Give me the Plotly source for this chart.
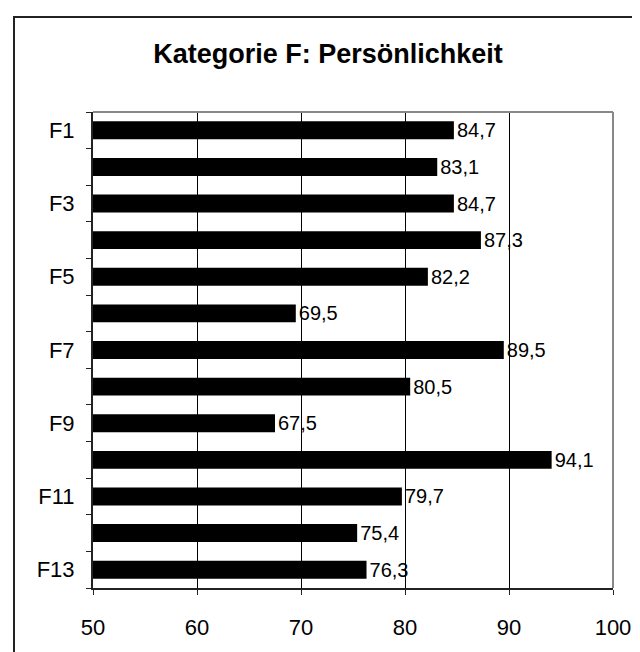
import plotly.graph_objects as go

categories = ["F1", "F2", "F3", "F4", "F5", "F6", "F7", "F8", "F9", "F10", "F11", "F12", "F13"]
values = [84.7, 83.1, 84.7, 87.3, 82.2, 69.5, 89.5, 80.5, 67.5, 94.1, 79.7, 75.4, 76.3]
tick_labels = [c if i % 2 == 0 else "" for i, c in enumerate(categories)]
x_ticks = [50, 60, 70, 80, 90, 100]

FONT = "Liberation Sans, Arial, sans-serif"

fig = go.Figure()
fig.add_trace(go.Bar(
    x=values, y=categories, orientation="h",
    marker=dict(color="black", line=dict(width=0)),
    texttemplate="%{x:.1f}", textposition="outside", constraintext="none",
    textfont=dict(family=FONT, size=20, color="black"),
    cliponaxis=False, showlegend=False,
))

L, R, T, B = 85, 35, 104, 72
W, H = 640, 652
pw, ph = W - L - R, H - T - B

def px(x):
    return (x - L) / pw

def py(y):
    return (H - B - y) / ph

fig.update_layout(
    width=W, height=H,
    margin=dict(l=L, r=R, t=T, b=B),
    paper_bgcolor="white", plot_bgcolor="white",
    separators=",.",
    bargap=0.51,
    title=dict(text="<b>Kategorie F: Persönlichkeit</b>", x=0.5, xanchor="center",
               y=1 - 46 / H, yanchor="middle",
               font=dict(family=FONT, size=27, color="black")),
    xaxis=dict(range=[50, 100], tickvals=x_ticks, showgrid=True, gridcolor="black", gridwidth=1,
               showline=True, linecolor="#222222", linewidth=2, ticks="outside", ticklen=5,
               tickcolor="#222222", zeroline=False,
               tickfont=dict(family=FONT, size=22, color="black"), ticklabelstandoff=14),
    yaxis=dict(type="category", categoryorder="array", categoryarray=categories,
               autorange="reversed", tickmode="array", tickvals=categories, ticktext=tick_labels,
               tickson="boundaries", ticks="outside", ticklen=5, tickcolor="#222222",
               showline=True, linecolor="#222222", linewidth=2, showgrid=False,
               tickfont=dict(family=FONT, size=22, color="black"), ticklabelstandoff=12),
    shapes=[
        dict(type="rect", xref="paper", yref="paper", x0=px(6), x1=px(660), y0=py(680), y1=py(9),
             line=dict(color="#222222", width=2), layer="below"),
        dict(type="line", xref="paper", yref="paper", x0=0, x1=1, y0=1, y1=1,
             line=dict(color="#888888", width=2), layer="above"),
        dict(type="line", xref="paper", yref="paper", x0=1, x1=1, y0=0, y1=1,
             line=dict(color="#888888", width=2), layer="above"),
    ],
)

fig.write_html("out.html")
